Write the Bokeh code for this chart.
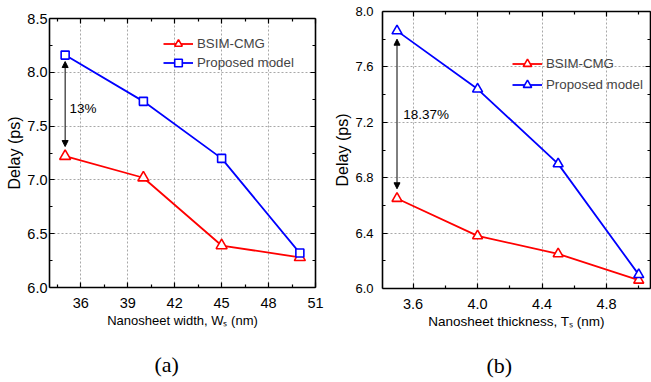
from bokeh.plotting import figure
from bokeh.layouts import row, column
from bokeh.models import (LinearAxis, FixedTicker, NumeralTickFormatter, Range1d,
                          Arrow, NormalHead, Label, Legend, Grid, Title)
from bokeh.embed import file_html
from bokeh.resources import INLINE

# ---- data (a) ----
width_nm = [35, 40, 45, 50]
bsim_a = [7.22, 7.02, 6.39, 6.28]
prop_a = [8.16, 7.73, 7.20, 6.32]
xticks_a = [36, 39, 42, 45, 48, 51]
yticks_a = [6.0, 6.5, 7.0, 7.5, 8.0, 8.5]

# ---- data (b) ----
thick_nm = [3.5, 4.0, 4.5, 5.0]
bsim_b = [6.65, 6.38, 6.25, 6.06]
prop_b = [7.86, 7.44, 6.90, 6.10]
xticks_b = [3.6, 4.0, 4.4, 4.8]
yticks_b = [6.0, 6.4, 6.8, 7.2, 7.6, 8.0]

FONT = "Liberation Sans"
RED = "#ff0000"
BLUE = "#0000ff"


def mids(t):
    step = t[1] - t[0]
    return [round(t[0] - step / 2 + i * step, 4) for i in range(len(t) + 1)]


def style(p, xt, yt, xfmt, yfmt, xlabel, ylabel, xfs, ytfs, ystand, caption, cap_offset):
    p.xaxis.visible = False
    p.yaxis.visible = False
    p.xgrid.visible = False
    p.ygrid.visible = False
    for loc in ["below", "left", "above", "right"]:
        if loc in ("below", "above"):
            ax = LinearAxis(ticker=FixedTicker(ticks=xt, minor_ticks=mids(xt)),
                            formatter=NumeralTickFormatter(format=xfmt))
        else:
            ax = LinearAxis(ticker=FixedTicker(ticks=yt, minor_ticks=mids(yt)),
                            formatter=NumeralTickFormatter(format=yfmt))
        ax.axis_line_color = "black"
        ax.axis_line_width = 1.6
        ax.major_tick_in = 5
        ax.major_tick_out = 0
        ax.minor_tick_in = 3
        ax.minor_tick_out = 0
        ax.major_tick_line_color = "black"
        ax.minor_tick_line_color = "black"
        ax.major_tick_line_width = 1.2
        ax.minor_tick_line_width = 1.2
        ax.major_label_text_font = FONT
        ax.major_label_text_color = "black"
        ax.axis_label_text_font = FONT
        ax.axis_label_text_font_style = "normal"
        ax.axis_label_text_color = "black"
        if loc == "below":
            ax.axis_label = xlabel
            ax.axis_label_text_font_size = xfs
            ax.major_label_text_font_size = "14.5px"
            ax.major_label_standoff = 10
            ax.axis_label_standoff = 2
        elif loc == "left":
            ax.axis_label = ylabel
            ax.axis_label_text_font_size = "16px"
            ax.major_label_text_font_size = ytfs
            ax.major_label_standoff = ystand
            ax.axis_label_standoff = 1
        else:
            ax.major_label_text_font_size = "0px"
            ax.major_label_standoff = 0
        p.add_layout(ax, loc)
    p.add_layout(Grid(dimension=0, ticker=FixedTicker(ticks=xt), grid_line_color="#a8a8a8",
                      grid_line_dash="2 2", grid_line_width=1))
    p.add_layout(Grid(dimension=1, ticker=FixedTicker(ticks=yt), grid_line_color="#a8a8a8",
                      grid_line_dash="2 2", grid_line_width=1))
    p.outline_line_color = None
    # spacer between the axis title and the caption
    p.add_layout(Title(text=" ", text_font_size="13px", standoff=0), "below")
    p.add_layout(Title(text=caption, align="left", offset=cap_offset,
                       text_font="Liberation Serif", text_font_size="22px",
                       text_font_style="normal", standoff=4, text_color="black"), "below")


H = 381

# ---------- panel (a) ----------
pa = figure(width=330, height=H, output_backend="svg", toolbar_location=None,
            x_range=Range1d(34, 51), y_range=Range1d(6.0, 8.5),
            min_border_left=49, min_border_right=15, min_border_top=18, min_border_bottom=H - 287)
style(pa, xticks_a, yticks_a, "0", "0.0", "Nanosheet width, W\u209b (nm)", "Delay (ps)",
      "13px", "14.5px", 2, "(a)", 105)

la1 = pa.line(width_nm, bsim_a, line_color=RED, line_width=1.8)
sa1 = pa.scatter(width_nm, bsim_a, marker="triangle", size=11, line_color=RED,
                 fill_color="white", line_width=1.6)
la2 = pa.line(width_nm, prop_a, line_color=BLUE, line_width=1.8)
sa2 = pa.scatter(width_nm, prop_a, marker="square", size=8, line_color=BLUE,
                 fill_color="white", line_width=1.6)

pa.add_layout(Arrow(start=NormalHead(size=6, fill_color="black", line_color="black"),
                    end=NormalHead(size=6, fill_color="black", line_color="black"),
                    x_start=35, y_start=8.10, x_end=35, y_end=7.31,
                    line_color="black", line_width=1))
pa.add_layout(Label(x=35.28, y=7.66, text="13%", text_font=FONT, text_font_size="13.5px",
                    text_baseline="middle", text_color="black"))

lega = Legend(items=[("BSIM-CMG", [la1, sa1]), ("Proposed model", [la2, sa2])],
              location=(114, 215), padding=0, spacing=0, margin=0,
              glyph_width=30, glyph_height=19, label_height=19, label_standoff=4,
              label_text_font=FONT, label_text_font_size="13.3px",
              background_fill_alpha=0, border_line_color=None)
pa.add_layout(lega, "center")

# ---------- panel (b) ----------
pb = figure(width=321, height=H - 1, output_backend="svg", toolbar_location=None,
            x_range=Range1d(3.41, 5.073), y_range=Range1d(6.0, 8.0),
            min_border_left=52, min_border_right=1, min_border_top=10,
            min_border_bottom=H - 1 - 10 - 277)
pb.margin = (1, 0, 0, 0)
style(pb, xticks_b, yticks_b, "0.0", "0.0", "Nanosheet thickness, T\u209b (nm)", "Delay (ps)",
      "13.5px", "13px", 9, "(b)", 104)

lb1 = pb.line(thick_nm, bsim_b, line_color=RED, line_width=1.8)
sb1 = pb.scatter(thick_nm, bsim_b, marker="triangle", size=10, line_color=RED,
                 fill_color="white", line_width=1.6)
lb2 = pb.line(thick_nm, prop_b, line_color=BLUE, line_width=1.8)
sb2 = pb.scatter(thick_nm, prop_b, marker="triangle", size=10, line_color=BLUE,
                 fill_color="white", line_width=1.6)

pb.add_layout(Arrow(start=NormalHead(size=6, fill_color="black", line_color="black"),
                    end=NormalHead(size=6, fill_color="black", line_color="black"),
                    x_start=3.5, y_start=7.80, x_end=3.5, y_end=6.72,
                    line_color="black", line_width=1))
pb.add_layout(Label(x=3.538, y=7.256, text="18.37%", text_font=FONT, text_font_size="13.5px",
                    text_baseline="middle", text_color="black"))

legb = Legend(items=[("BSIM-CMG", [lb1, sb1]), ("Proposed model", [lb2, sb2])],
              location=(130, 193), padding=0, spacing=0, margin=0,
              glyph_width=30, glyph_height=21, label_height=21, label_standoff=4,
              label_text_font=FONT, label_text_font_size="13.3px",
              background_fill_alpha=0, border_line_color=None)
pb.add_layout(legb, "center")

layout = row(column(pa), column(pb))
open("out.html", "w").write(file_html(layout, INLINE))
